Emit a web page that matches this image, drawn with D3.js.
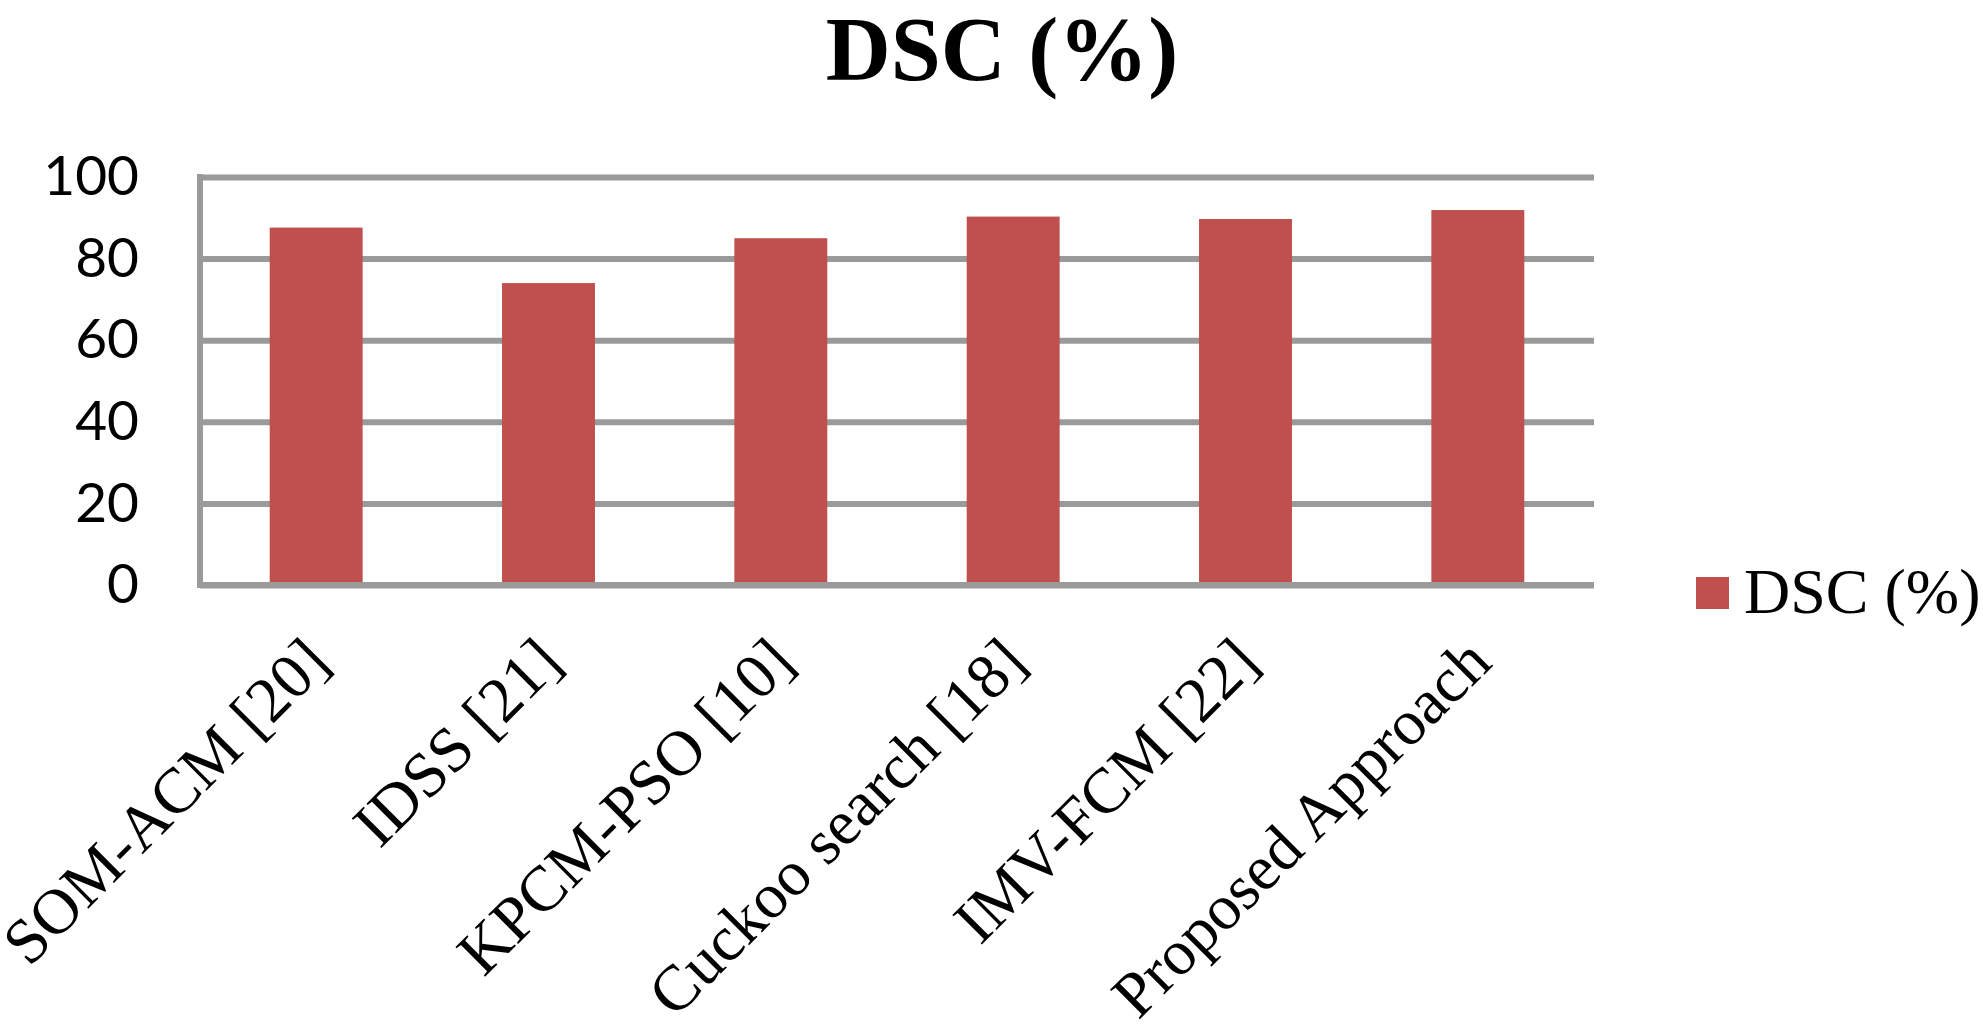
<!DOCTYPE html>
<html>
<head>
<meta charset="utf-8">
<script src="https://cdn.jsdelivr.net/npm/d3@7"></script>
<style>
  body { margin: 0; background: #fff; }
  svg { display: block; }
</style>
</head>
<body>
<svg id="chart"></svg>
<script>
var width = 1983, height = 1028;

// values
var categories = ["SOM-ACM [20]", "IDSS [21]", "KPCM-PSO [10]", "Cuckoo search [18]", "IMV-FCM [22]", "Proposed Approach"];
var dscValues = [87.6, 74.0, 85.0, 90.3, 89.7, 91.9];
var yTicks = [0, 20, 40, 60, 80, 100];
var seriesName = "DSC (%)";
var titleText = "DSC (%)";

var svg = d3.select("#chart").attr("width", width).attr("height", height);

var plotLeft = 200, plotRight = 1594, plotTop = 177, plotBottom = 585;
var barColor = "#C0504D", gridColor = "#9a9a9a";

var x = d3.scaleBand()
    .domain(categories)
    .range([plotLeft, plotRight])
    .paddingInner(0.6)
    .paddingOuter(0.3);

var y = d3.scaleLinear()
    .domain([0, 100])
    .range([plotBottom, plotTop]);

// title
svg.append("text")
    .attr("x", 1002)
    .attr("y", 80)
    .attr("text-anchor", "middle")
    .style("font-family", "'Liberation Serif', 'Times New Roman', serif")
    .style("font-weight", "bold")
    .style("font-size", "90px")
    .text(titleText);

// gridlines + y labels
var yAxis = svg.append("g")
    .attr("transform", "translate(" + plotLeft + ",0)")
    .call(d3.axisLeft(y).tickValues(yTicks).tickSize(-(plotRight - plotLeft)).tickPadding(61));

yAxis.select(".domain").remove();
yAxis.selectAll(".tick line")
    .attr("stroke", gridColor)
    .attr("stroke-width", 6);
yAxis.selectAll(".tick text")
    .style("font-family", "Lato, 'Open Sans', sans-serif")
    .style("font-size", "55px")
    .attr("fill", "#000");

// bars
svg.selectAll(".bar")
    .data(dscValues)
    .enter().append("rect")
    .attr("class", "bar")
    .attr("x", function(d, i){ return x(categories[i]); })
    .attr("y", function(d){ return y(d); })
    .attr("width", x.bandwidth())
    .attr("height", function(d){ return y(0) - y(d); })
    .attr("fill", barColor);

// axis lines on top
svg.append("line")
    .attr("x1", plotLeft).attr("x2", plotRight)
    .attr("y1", y(0)).attr("y2", y(0))
    .attr("stroke", gridColor).attr("stroke-width", 6);
svg.append("line")
    .attr("x1", plotLeft).attr("x2", plotLeft)
    .attr("y1", y(100) - 3).attr("y2", y(0) + 3)
    .attr("stroke", gridColor).attr("stroke-width", 6);

// rotated category labels
svg.selectAll(".xlabel")
    .data(categories)
    .enter().append("text")
    .attr("class", "xlabel")
    .attr("transform", function(d){
        var cx = x(d) + x.bandwidth() / 2 + 16;
        var cy = y(0) + 80;
        return "translate(" + cx + "," + cy + ") rotate(-45)";
    })
    .attr("text-anchor", "end")
    .style("font-family", "'Liberation Serif', 'Times New Roman', serif")
    .style("font-size", "64px")
    .text(function(d){ return d; });

// legend
var legend = svg.append("g").attr("transform", "translate(1696,577)");
legend.append("rect")
    .attr("width", 33).attr("height", 32)
    .attr("fill", barColor);
legend.append("text")
    .attr("x", 48)
    .attr("y", 36)
    .style("font-family", "'Liberation Serif', 'Times New Roman', serif")
    .style("font-size", "64px")
    .text(seriesName);
</script>
</body>
</html>
